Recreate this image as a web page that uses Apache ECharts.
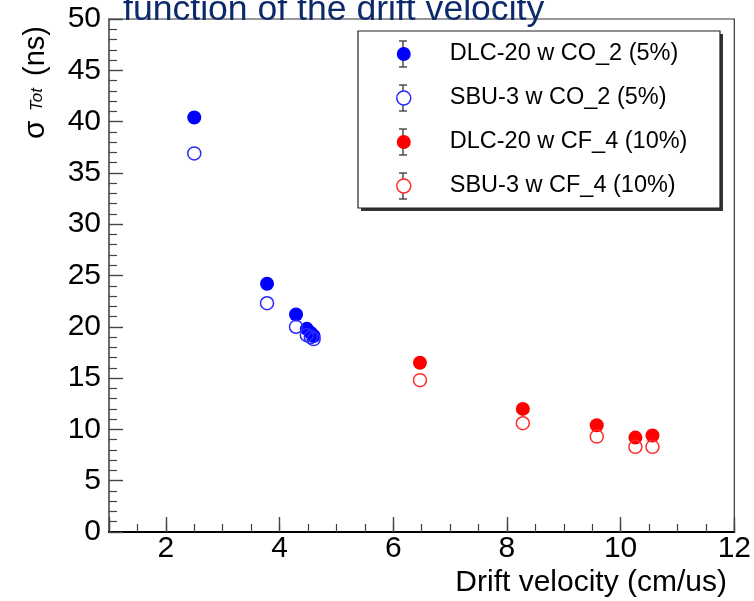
<!DOCTYPE html>
<html><head><meta charset="utf-8">
<script src="https://cdn.jsdelivr.net/npm/echarts@6/dist/echarts.min.js"></script>
<style>html,body{margin:0;padding:0;background:#fff}#c{width:754px;height:601px}</style>
</head><body><div id="c"></div>
<script>
// ---- data ----
const seriesNames = ['DLC-20 w CO_2 (5%)', 'SBU-3 w CO_2 (5%)', 'DLC-20 w CF_4 (10%)', 'SBU-3 w CF_4 (10%)'];
const dlcCO2X = [2.5, 3.78, 4.29, 4.48, 4.55, 4.6];
const dlcCO2Y = [40.4, 24.2, 21.2, 19.8, 19.4, 19.1];
const sbuCO2X = [2.5, 3.78, 4.29, 4.48, 4.55, 4.6];
const sbuCO2Y = [36.9, 22.3, 20.0, 19.2, 19.0, 18.8];
const dlcCF4X = [6.47, 8.28, 9.58, 10.26, 10.56];
const dlcCF4Y = [16.5, 12.0, 10.4, 9.2, 9.4];
const sbuCF4X = [6.47, 8.28, 9.58, 10.26, 10.56];
const sbuCF4Y = [14.8, 10.6, 9.3, 8.3, 8.3];
const titleText = 'function of the drift velocity';
const xName = 'Drift velocity (cm/us)';
const yNameParts = ['σ', 'Tot', '(ns)'];

const FONT = '"Liberation Sans", Arial, Helvetica, sans-serif';
const BLUE = '#0000ff', BLUE_H = '#2a2aff', RED = '#ff0000', RED_H = '#ff2a2a';
const pairs = (xs, ys) => xs.map((x, i) => [x, ys[i]]);

const chart = echarts.init(document.getElementById('c'), null, {renderer: 'canvas'});

// legend error-bar decorations
const errBars = [];
for (let i = 0; i < 4; i++) {
  const cy = 54 + i * 44;
  const st = {stroke: '#444', lineWidth: 1.4};
  errBars.push({type: 'line', z: 7, shape: {x1: 403, y1: cy - 13, x2: 403, y2: cy + 13}, style: st});
  errBars.push({type: 'line', z: 7, shape: {x1: 399, y1: cy - 13, x2: 407, y2: cy - 13}, style: st});
  errBars.push({type: 'line', z: 7, shape: {x1: 399, y1: cy + 13, x2: 407, y2: cy + 13}, style: st});
}

chart.setOption({
  animation: false,
  backgroundColor: '#fff',
  grid: {left: 109, right: 19, top: 19, bottom: 69, show: true, borderColor: '#333', borderWidth: 1.2, containLabel: false},
  xAxis: [
    {
      type: 'value', min: 1, max: 12, interval: 0.5, position: 'bottom',
      axisLine: {onZero: false, lineStyle: {color: '#000', width: 2}},
      axisTick: {inside: true, length: 8, lineStyle: {color: '#444', width: 1.2}},
      axisLabel: {show: false},
      splitLine: {show: false}
    },
    {
      type: 'value', min: 1, max: 12, position: 'bottom',
      axisLine: {show: false, onZero: false},
      axisTick: {inside: true, length: 15, lineStyle: {color: '#444', width: 1.4}},
      axisLabel: {
        fontSize: 30, fontFamily: FONT, color: '#000', margin: 2,
        formatter: v => (Math.abs(v % 2) < 1e-9 ? String(v) : '')
      },
      splitLine: {show: false}
    }
  ],
  yAxis: {
    type: 'value', min: 0, max: 50, interval: 5,
    axisLine: {onZero: false, lineStyle: {color: '#666', width: 1.5}},
    axisTick: {inside: true, length: 14, lineStyle: {color: '#444', width: 1.4}},
    minorTick: {show: true, splitNumber: 5, length: 8, lineStyle: {color: '#444', width: 1.2}},
    axisLabel: {fontSize: 30, fontFamily: FONT, color: '#000', margin: 8},
    splitLine: {show: false}
  },
  legend: {
    orient: 'vertical', left: 396, top: 42, padding: 0,
    itemWidth: 14, itemHeight: 14, itemGap: 20, selectedMode: false, z: 10,
    textStyle: {fontFamily: FONT, fontSize: 23.5, color: '#000', lineHeight: 24, padding: [0, 0, 0, 34]},
    data: [
      {name: seriesNames[0], icon: 'circle', itemStyle: {color: BLUE, borderWidth: 0}},
      {name: seriesNames[1], icon: 'circle', itemStyle: {color: '#fff', borderColor: BLUE_H, borderWidth: 1.5}},
      {name: seriesNames[2], icon: 'circle', itemStyle: {color: RED, borderWidth: 0}},
      {name: seriesNames[3], icon: 'circle', itemStyle: {color: '#fff', borderColor: RED_H, borderWidth: 1.5}}
    ]
  },
  graphic: [
    {type: 'rect', z: 5, shape: {x: 361, y: 34, width: 362, height: 177}, style: {fill: '#333'}},
    {type: 'rect', z: 6, shape: {x: 358, y: 31, width: 362, height: 177}, style: {fill: '#fff', stroke: '#222', lineWidth: 1.2}},
    ...errBars,
    {type: 'text', z: 20, x: 123, y: 10, style: {text: titleText, fontSize: 35.6, fontFamily: FONT, fill: '#0c2a6a', align: 'left', verticalAlign: 'middle'}},
    {type: 'text', z: 20, x: 727, y: 583, style: {text: xName, fontSize: 30, fontFamily: FONT, fill: '#000', align: 'right', verticalAlign: 'middle'}},
    {type: 'text', z: 20, x: 35.5, y: 139, rotation: Math.PI / 2,
     style: {text: yNameParts[0], fontSize: 30, fontFamily: FONT, fill: '#000', align: 'left', verticalAlign: 'middle'}},
    {type: 'text', z: 20, x: 37, y: 111, rotation: Math.PI / 2,
     style: {text: yNameParts[1], fontSize: 17, fontStyle: 'italic', fontFamily: FONT, fill: '#000', align: 'left', verticalAlign: 'middle'}},
    {type: 'text', z: 20, x: 35.5, y: 76, rotation: Math.PI / 2,
     style: {text: yNameParts[2], fontSize: 29, fontFamily: FONT, fill: '#000', align: 'left', verticalAlign: 'middle'}}
  ],
  series: [
    {name: seriesNames[0], type: 'scatter', xAxisIndex: 0, symbol: 'circle', symbolSize: 14, z: 3,
     itemStyle: {color: BLUE, opacity: 1}, data: pairs(dlcCO2X, dlcCO2Y)},
    {name: seriesNames[1], type: 'scatter', xAxisIndex: 0, symbol: 'circle', symbolSize: 13, z: 4,
     itemStyle: {color: 'rgba(255,255,255,0)', borderColor: BLUE_H, borderWidth: 1.5, opacity: 1}, data: pairs(sbuCO2X, sbuCO2Y)},
    {name: seriesNames[2], type: 'scatter', xAxisIndex: 0, symbol: 'circle', symbolSize: 14, z: 3,
     itemStyle: {color: RED, opacity: 1}, data: pairs(dlcCF4X, dlcCF4Y)},
    {name: seriesNames[3], type: 'scatter', xAxisIndex: 0, symbol: 'circle', symbolSize: 13, z: 4,
     itemStyle: {color: 'rgba(255,255,255,0)', borderColor: RED_H, borderWidth: 1.5, opacity: 1}, data: pairs(sbuCF4X, sbuCF4Y)}
  ]
});
</script>
</body></html>
